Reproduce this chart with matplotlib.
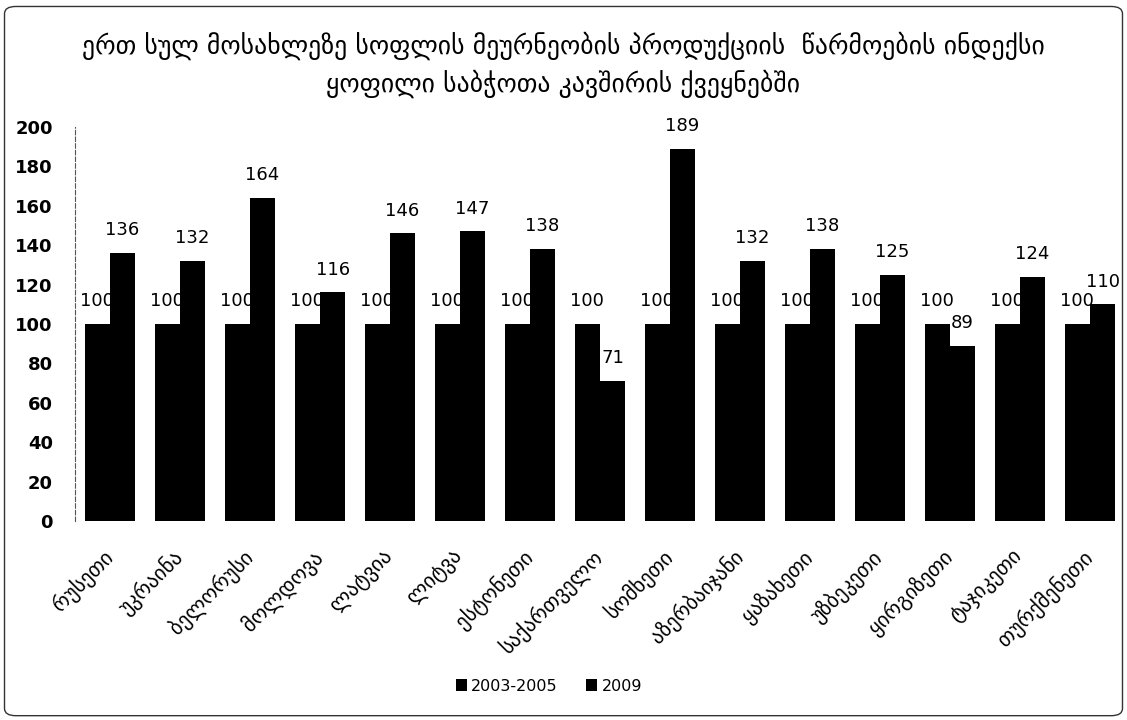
import numpy as np
from matplotlib import pyplot as plt
from matplotlib.patches import FancyBboxPatch
from matplotlib.transforms import ScaledTranslation

countries = ['რუსეთი', 'უკრაინა', 'ბელორუსი', 'მოლდოვა', 'ლატვია', 'ლიტვა', 'ესტონეთი',
             'საქართველო', 'სომხეთი', 'აზერბაიჯანი', 'ყაზახეთი', 'უზბეკეთი', 'ყირგიზეთი',
             'ტაჯიკეთი', 'თურქმენეთი']
base_2003_2005 = [100] * 15
values_2009 = [136, 132, 164, 116, 146, 147, 138, 71, 189, 132, 138, 125, 89, 124, 110]
series_names = ['2003-2005', '2009']
title = ('ერთ სულ მოსახლეზე სოფლის მეურნეობის პროდუქციის  წარმოების ინდექსი\n'
         'ყოფილი საბჭოთა კავშირის ქვეყნებში')

plt.rcParams['font.family'] = ['DejaVu Sans']

fig = plt.figure(figsize=(11.27, 7.2), dpi=100)
fig.patches.append(FancyBboxPatch((0.004, 0.006), 0.992, 0.985, boxstyle='round,pad=0,rounding_size=0.01',
                                  transform=fig.transFigure, fill=False, edgecolor='#333333', linewidth=1))

ax = fig.add_axes([75 / 1127, 1 - 521 / 720, 1050 / 1127, 394 / 720])

x = np.arange(len(countries))
w = 0.36
b1 = ax.bar(x - w / 2, base_2003_2005, w, color='black', label=series_names[0])
b2 = ax.bar(x + w / 2, values_2009, w, color='black', label=series_names[1])

for bars, vals in [(b1, base_2003_2005), (b2, values_2009)]:
    for rect, v in zip(bars, vals):
        ax.text(rect.get_x() + rect.get_width() / 2, v + 7, str(v), ha='center', va='bottom', fontsize=13)

ax.set_ylim(0, 200)
ax.set_xlim(-0.5, len(countries) - 0.5)
ax.set_yticks(range(0, 201, 20))
ax.tick_params(axis='y', labelsize=13, length=0, pad=16)
for lbl in ax.get_yticklabels():
    lbl.set_fontweight('bold')

ax.set_xticks(x)
ax.set_xticklabels(countries, rotation=45, ha='right', rotation_mode='anchor', fontsize=15)
ax.tick_params(axis='x', length=0, pad=18)
shift = ScaledTranslation(-8 / 100, 0, fig.dpi_scale_trans)
for lbl in ax.get_xticklabels():
    lbl.set_transform(lbl.get_transform() + shift)

for s in ['top', 'right', 'bottom']:
    ax.spines[s].set_visible(False)
ax.spines['left'].set_linestyle((0, (4, 2)))
ax.spines['left'].set_color('#555555')

fig.text(0.5, 0.91, title, ha='center', va='center', fontsize=18.5, linespacing=1.45)

fig.legend(handles=[b1, b2], loc='center', bbox_to_anchor=(0.487, 0.047), ncol=2, frameon=False,
           fontsize=11.5, handlelength=0.7, handleheight=0.7, columnspacing=1.8, handletextpad=0.25)

plt.savefig('out.png', dpi=100)
